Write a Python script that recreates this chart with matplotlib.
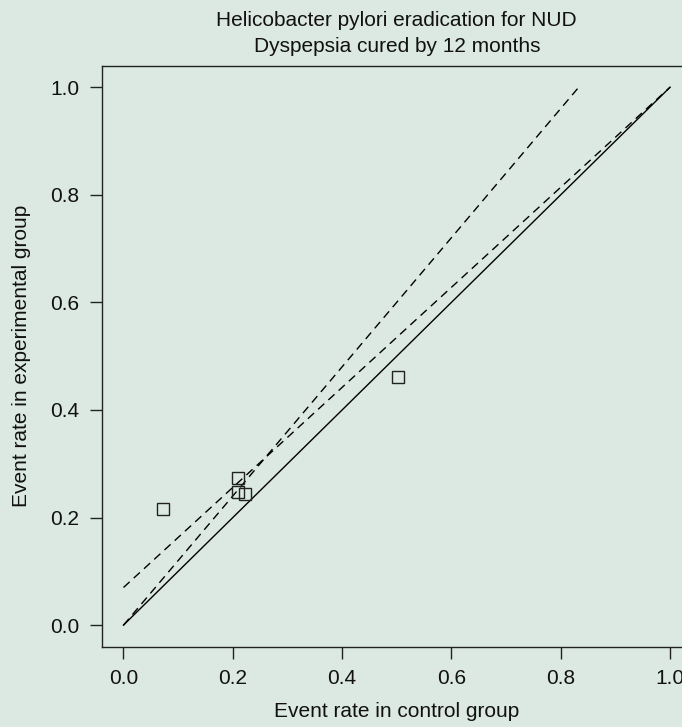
import matplotlib
matplotlib.use("Agg")
import matplotlib.pyplot as plt

plt.rcParams["font.family"] = ["Liberation Sans", "DejaVu Sans"]

# trial event rates (control, experimental)
control_rate = [0.073, 0.209, 0.209, 0.222, 0.503]
experimental_rate = [0.215, 0.274, 0.248, 0.243, 0.461]

# reference lines
equal_x = [0.0, 1.0]
equal_y = [0.0, 1.0]
rr_cured_x = [0.0, 0.833]
rr_cured_y = [0.0, 1.0]
rr_fail_x = [0.0, 1.0]
rr_fail_y = [0.07, 1.0]

ticks = [0.0, 0.2, 0.4, 0.6, 0.8, 1.0]
tick_labels = ["0.0", "0.2", "0.4", "0.6", "0.8", "1.0"]

bg = "#dce9e3"
fs = 15
fig = plt.figure(figsize=(6.82, 7.27), dpi=100, facecolor=bg)
ax = fig.add_axes([0.149, 0.1105, 0.8656, 0.7992], facecolor=bg)

ax.plot(equal_x, equal_y, color="black", lw=1.0)
ax.plot(rr_cured_x, rr_cured_y, color="black", lw=1.0, dashes=(6, 4))
ax.plot(rr_fail_x, rr_fail_y, color="black", lw=1.0, dashes=(6, 4))
ax.plot(control_rate, experimental_rate, ls="none", marker="s", ms=8.5,
        mfc="none", mec="#222222", mew=1.0)

ax.set_xlim(-0.04, 1.04)
ax.set_ylim(-0.04, 1.04)
ax.set_xticks(ticks)
ax.set_xticklabels(tick_labels)
ax.set_yticks(ticks)
ax.set_yticklabels(tick_labels)
ax.tick_params(direction="out", length=8.6, width=1.0, labelsize=fs, pad=7.5,
               color="#222222", labelcolor="#111111")
for s in ax.spines.values():
    s.set_linewidth(1.0)
    s.set_color("#222222")

ax.set_title("Helicobacter pylori eradication for NUD\nDyspepsia cured by 12 months",
             fontsize=fs, pad=10, linespacing=1.45, color="#111111")
ax.set_xlabel("Event rate in control group", fontsize=fs, labelpad=10,
              color="#111111")
ax.set_ylabel("Event rate in experimental group", fontsize=fs, labelpad=14,
              color="#111111")

fig.savefig("out.png", dpi=100, facecolor=bg)
